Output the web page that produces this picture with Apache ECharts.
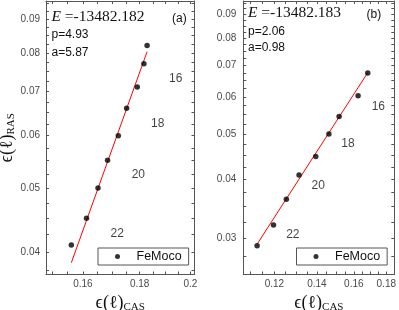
<!DOCTYPE html>
<html>
<head>
<meta charset="utf-8">
<script src="https://cdn.jsdelivr.net/npm/echarts@6/dist/echarts.min.js"></script>
<style>html,body{margin:0;padding:0;background:#fff;}#c{width:399px;height:310px;}</style>
</head>
<body>
<div id="c"></div>
<script>
// ---------- data ----------
const ellLabels = ['16', '18', '20', '22'];

// panel (a)
const casA = [0.1828, 0.1816, 0.1791, 0.1752, 0.1722, 0.1684, 0.1651, 0.1612, 0.1562];
const rasA = [0.0821, 0.0771, 0.0711, 0.0660, 0.0600, 0.0551, 0.0500, 0.0450, 0.0410];
const fitCasA = [0.1562, 0.1828];
const fitRasA = [0.03855, 0.0804];
const labelCasA = [0.1940, 0.1869, 0.1795, 0.1718];
const labelRasA = [0.0731, 0.0626, 0.0523, 0.0427];
const xTicksA = [0.16, 0.18, 0.2];
const xMinorA = [0.15, 0.155, 0.165, 0.17, 0.175, 0.185, 0.19, 0.195];
const yTicksA = [0.04, 0.05, 0.06, 0.07, 0.08, 0.09];
const yMinorA = [0.0375, 0.0425, 0.045, 0.0475, 0.0525, 0.055, 0.0575, 0.0625, 0.065, 0.0675,
                 0.0725, 0.075, 0.0775, 0.0825, 0.085, 0.0875, 0.0925, 0.095];
const xRangeA = [0.1482, 0.2017];
const yRangeA = [0.0370, 0.0959];
const energyA = '-13482.182', pA = '4.93', aA = '5.87';

// panel (b)
const casB = [0.1683, 0.1625, 0.1517, 0.1462, 0.1394, 0.1312, 0.1253, 0.1196, 0.1127];
const rasB = [0.0674, 0.0603, 0.0545, 0.0500, 0.0448, 0.0409, 0.0363, 0.0320, 0.0289];
const fitCasB = [0.1127, 0.1683];
const fitRasB = [0.02913, 0.06756];
const labelCasB = [0.1749, 0.1567, 0.1406, 0.1283];
const labelRasB = [0.0572, 0.0476, 0.0388, 0.0305];
const xTicksB = [0.12, 0.14, 0.16, 0.18];
const xMinorB = [0.11, 0.115, 0.125, 0.13, 0.135, 0.145, 0.15, 0.155, 0.165, 0.17, 0.175];
const yTicksB = [0.03, 0.04, 0.05, 0.06, 0.07, 0.08, 0.09];
const yMinorB = [0.0275, 0.0325, 0.035, 0.0375, 0.0425, 0.045, 0.0475, 0.0525, 0.055, 0.0575,
                 0.0625, 0.065, 0.0675, 0.0725, 0.075, 0.0775, 0.0825, 0.085, 0.0875, 0.0925, 0.095];
const xRangeB = [0.1072, 0.1853];
const yRangeB = [0.0251, 0.0960];
const energyB = '-13482.183', pB = '2.06', aB = '0.98';

// ---------- helpers ----------
const lg = v => Math.log10(v);
const fmt = v => String(parseFloat(Math.pow(10, v).toPrecision(3)));
const SANS = 'Liberation Sans, Arial, sans-serif';
const SERIF = 'Liberation Serif, DejaVu Serif, serif';
const FRAME = '#555';

function axisPair(dim, gi, range, ticks, minors, showLabel, labelMargin) {
  const base = {
    type: 'value', gridIndex: gi,
    min: lg(range[0]), max: lg(range[1]),
    axisLine: { show: true, onZero: false, lineStyle: { color: FRAME, width: 1 } },
    axisTick: { show: true, inside: true, length: 3, customValues: ticks.concat(minors).map(lg),
                lineStyle: { color: FRAME, width: 1 } },
    splitLine: { show: false },
    minorTick: { show: false }
  };
  const main = Object.assign({}, base, {
    position: dim === 'x' ? 'bottom' : 'left',
    axisLabel: { show: showLabel, customValues: ticks.map(lg), formatter: fmt,
                 fontFamily: SANS, fontSize: 10, color: '#4a4a4a', margin: labelMargin }
  });
  const mirror = Object.assign({}, base, {
    position: dim === 'x' ? 'top' : 'right',
    axisLabel: { show: false }
  });
  return [main, mirror];
}

const nameRich = {
  e: { fontFamily: SERIF, fontSize: 18, color: '#111' },
  s: { fontFamily: SERIF, fontSize: 11, color: '#111', verticalAlign: 'bottom' }
};

const xA = axisPair('x', 0, xRangeA, xTicksA, xMinorA, true, 5);
const yA = axisPair('y', 0, yRangeA, yTicksA, yMinorA, true, 6);
const xB = axisPair('x', 1, xRangeB, xTicksB, xMinorB, true, 5);
const yB = axisPair('y', 1, yRangeB, yTicksB, yMinorB, true, 7);

Object.assign(xA[0], { name: '{e|ϵ(ℓ)}{s|CAS}', nameLocation: 'middle', nameGap: 17,
  nameTextStyle: { rich: nameRich } });
Object.assign(xB[0], { name: '{e|ϵ(ℓ)}{s|CAS}', nameLocation: 'middle', nameGap: 17,
  nameTextStyle: { rich: nameRich } });
Object.assign(yA[0], { name: '{e|ϵ(ℓ)}{s|RAS}', nameLocation: 'middle', nameRotate: 90, nameGap: 24,
  nameTextStyle: { rich: nameRich } });

function pts(xs, ys) { return xs.map((x, i) => [lg(x), lg(ys[i])]); }

function panelSeries(idx, cas, ras, fx, fy, lx, ly) {
  const xi = idx * 2, yi = idx * 2;
  return [
    { type: 'line', xAxisIndex: xi, yAxisIndex: yi, data: pts(fx, fy), symbol: 'none',
      lineStyle: { color: '#ff0000', width: 1 }, silent: true, z: 2, animation: false },
    { name: 'FeMoco', type: 'scatter', xAxisIndex: xi, yAxisIndex: yi, data: pts(cas, ras),
      symbol: 'circle', symbolSize: 5.5, itemStyle: { color: '#000' }, z: 3, animation: false },
    { type: 'scatter', xAxisIndex: xi, yAxisIndex: yi, data: pts(lx, ly), symbolSize: 0,
      silent: true, animation: false,
      label: { show: true, position: 'inside', color: '#111', fontFamily: SANS, fontSize: 12,
               formatter: p => ellLabels[p.dataIndex] } }
  ];
}

function legendAt(left) {
  return { data: ['FeMoco'], left: left, top: 248, orient: 'horizontal',
    padding: [2, 7, 2, 17], borderColor: FRAME, borderWidth: 1, borderRadius: 0,
    itemWidth: 28, itemHeight: 5, icon: 'circle', selectedMode: false,
    textStyle: { fontFamily: SANS, fontSize: 12.5, color: '#111' } };
}

function textEl(x, y, txt, opts) {
  return { type: 'text', left: x, top: y, silent: true,
    style: Object.assign({ text: txt, fill: '#111', font: '12px ' + SANS }, opts || {}) };
}
function energyEl(x, y, val) {
  return { type: 'text', left: x, top: y, silent: true,
    style: { text: '{i|E}{n| =' + val + '}', rich: {
      i: { fontFamily: SERIF, fontStyle: 'italic', fontSize: 15.5, fill: '#111' },
      n: { fontFamily: SERIF, fontSize: 15.5, fill: '#111' } } } };
}

const option = {
  animation: false,
  grid: [
    { left: 46, top: 1, width: 148.5, height: 273.5, containLabel: false, outerBoundsMode: 'none' },
    { left: 243.3, top: 1, width: 151, height: 273.5, containLabel: false, outerBoundsMode: 'none' }
  ],
  xAxis: [xA[0], xA[1], xB[0], xB[1]],
  yAxis: [yA[0], yA[1], yB[0], yB[1]],
  legend: [legendAt(98), legendAt(296.5)],
  series: [].concat(
    panelSeries(0, casA, rasA, fitCasA, fitRasA, labelCasA, labelRasA),
    panelSeries(1, casB, rasB, fitCasB, fitRasB, labelCasB, labelRasB)
  ),
  graphic: [
    energyEl(51.5, 8.5, energyA),
    textEl(51.5, 29, 'p=' + pA),
    textEl(51.5, 46.5, 'a=' + aA),
    textEl(172, 13, '(a)'),
    energyEl(248, 4.5, energyB),
    textEl(248, 25.5, 'p=' + pB),
    textEl(248, 42, 'a=' + aB),
    textEl(366.5, 9, '(b)')
  ]
};

const chart = echarts.init(document.getElementById('c'), null, { renderer: 'canvas' });
chart.setOption(option);
</script>
</body>
</html>
